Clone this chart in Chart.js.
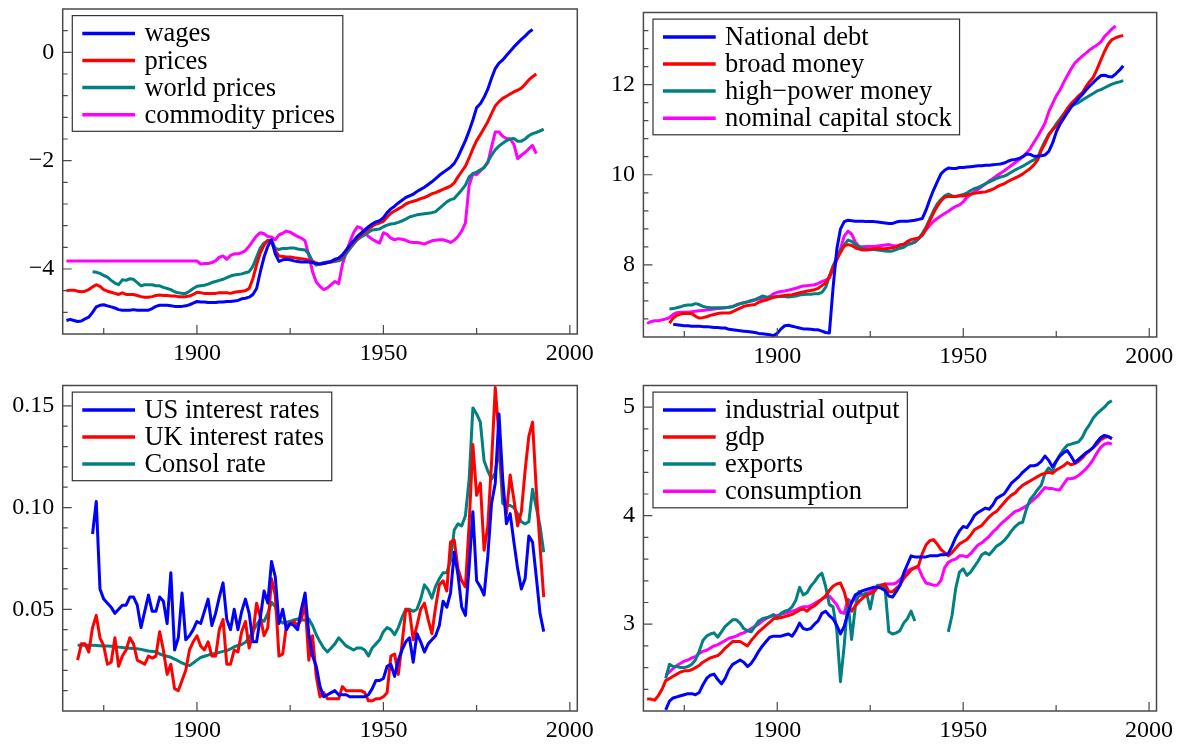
<!DOCTYPE html>
<html>
<head>
<meta charset="utf-8">
<title>UK long-run macro series</title>
<script src="https://cdn.jsdelivr.net/npm/chart.js@4.4.1/dist/chart.umd.min.js"></script>
<style>
  html, body { margin: 0; padding: 0; background: #fff; }
  #wrap { position: relative; width: 1180px; height: 744px; overflow: hidden; background: #fff; }
  #wrap canvas { position: absolute; }
</style>
</head>
<body>
<div id="wrap">
  <canvas id="pPrices" width="600" height="372" style="left:0px;top:0px;width:600px;height:372px"></canvas>
  <canvas id="pMoney" width="580" height="372" style="left:600px;top:0px;width:580px;height:372px"></canvas>
  <canvas id="pRates" width="600" height="372" style="left:0px;top:372px;width:600px;height:372px"></canvas>
  <canvas id="pOutput" width="580" height="372" style="left:600px;top:372px;width:580px;height:372px"></canvas>
</div>
<script>
// ---------- axis ticks ----------
const YEAR_TICKS = [1875, 1900, 1925, 1950, 1975, 2000];
const YEAR_LABELS = [1900, 1950, 2000];

const PRICE_TICKS = [-4.8, -4.4, -4.0, -3.6, -3.2, -2.8, -2.4, -2.0, -1.6, -1.2, -0.8, -0.4, 0, 0.4];
const PRICE_LABELS = [-4, -2, 0];
const MONEY_TICKS = [6.8, 7.2, 7.6, 8, 8.4, 8.8, 9.2, 9.6, 10, 10.4, 10.8, 11.2, 11.6, 12, 12.4, 12.8, 13.2];
const MONEY_LABELS = [8, 10, 12];
const RATE_TICKS = [0.01, 0.02, 0.03, 0.04, 0.05, 0.06, 0.07, 0.08, 0.09, 0.10, 0.11, 0.12, 0.13, 0.14, 0.15];
const RATE_LABELS = [0.05, 0.10, 0.15];
const OUTPUT_TICKS = [2.4, 2.6, 2.8, 3.0, 3.2, 3.4, 3.6, 3.8, 4.0, 4.2, 4.4, 4.6, 4.8, 5.0];
const OUTPUT_LABELS = [3, 4, 5];

// ---------- prices (logs), annual ----------
const wagesStart = 1865;
const wages = [
  -4.95,-4.93,-4.95,-4.97,-4.96,-4.92,-4.89,-4.80,-4.70,-4.67,
  -4.66,-4.68,-4.70,-4.72,-4.75,-4.76,-4.76,-4.76,-4.75,-4.76,
  -4.76,-4.76,-4.76,-4.73,-4.69,-4.67,-4.67,-4.67,-4.68,-4.69,
  -4.69,-4.69,-4.68,-4.66,-4.63,-4.60,-4.61,-4.61,-4.62,-4.62,
  -4.62,-4.61,-4.61,-4.60,-4.60,-4.59,-4.58,-4.55,-4.54,-4.52,
  -4.47,-4.36,-4.05,-3.78,-3.58,-3.46,-3.72,-3.86,-3.83,-3.82,
  -3.83,-3.85,-3.86,-3.87,-3.87,-3.87,-3.88,-3.90,-3.91,-3.90,
  -3.88,-3.86,-3.82,-3.80,-3.74,-3.65,-3.56,-3.48,-3.40,-3.34,
  -3.28,-3.22,-3.17,-3.13,-3.11,-3.05,-2.96,-2.89,-2.84,-2.78,
  -2.73,-2.68,-2.65,-2.62,-2.57,-2.53,-2.49,-2.44,-2.39,-2.33,
  -2.27,-2.22,-2.17,-2.12,-2.05,-1.93,-1.78,-1.63,-1.45,-1.25,
  -1.02,-0.95,-0.83,-0.68,-0.48,-0.30,-0.20,-0.14,-0.06,0.02,
  0.10,0.17,0.24,0.30,0.37,0.42
];
const pricesStart = 1865;
const prices = [
  -4.40,-4.39,-4.39,-4.41,-4.42,-4.41,-4.38,-4.33,-4.29,-4.32,
  -4.38,-4.41,-4.43,-4.45,-4.47,-4.44,-4.47,-4.47,-4.47,-4.49,
  -4.51,-4.52,-4.52,-4.51,-4.49,-4.48,-4.49,-4.49,-4.50,-4.50,
  -4.51,-4.51,-4.51,-4.50,-4.47,-4.43,-4.44,-4.45,-4.45,-4.45,
  -4.45,-4.44,-4.44,-4.44,-4.45,-4.43,-4.42,-4.41,-4.40,-4.36,
  -4.18,-3.92,-3.70,-3.56,-3.47,-3.50,-3.66,-3.76,-3.77,-3.78,
  -3.78,-3.79,-3.80,-3.81,-3.82,-3.84,-3.86,-3.89,-3.91,-3.90,
  -3.88,-3.87,-3.84,-3.81,-3.76,-3.67,-3.58,-3.50,-3.43,-3.37,
  -3.31,-3.26,-3.21,-3.17,-3.15,-3.12,-3.04,-2.97,-2.93,-2.89,
  -2.85,-2.80,-2.77,-2.75,-2.73,-2.70,-2.68,-2.65,-2.61,-2.59,
  -2.56,-2.53,-2.50,-2.47,-2.41,-2.30,-2.20,-2.10,-1.95,-1.78,
  -1.63,-1.52,-1.40,-1.28,-1.13,-0.99,-0.91,-0.85,-0.81,-0.77,
  -0.73,-0.70,-0.66,-0.59,-0.51,-0.45,-0.40
];
const worldPricesStart = 1872;
const worldPrices = [
  -4.05,-4.06,-4.08,-4.12,-4.15,-4.21,-4.26,-4.29,-4.20,-4.21,
  -4.18,-4.19,-4.25,-4.31,-4.29,-4.29,-4.29,-4.31,-4.31,-4.34,
  -4.36,-4.38,-4.42,-4.44,-4.45,-4.45,-4.41,-4.36,-4.32,-4.31,
  -4.30,-4.28,-4.25,-4.23,-4.21,-4.19,-4.16,-4.13,-4.11,-4.10,
  -4.09,-4.07,-4.05,-3.95,-3.78,-3.61,-3.52,-3.48,-3.47,-3.62,
  -3.64,-3.62,-3.62,-3.61,-3.61,-3.63,-3.64,-3.65,-3.72,-3.86,
  -3.93,-3.90,-3.88,-3.87,-3.87,-3.86,-3.85,-3.82,-3.72,-3.63,
  -3.54,-3.46,-3.41,-3.37,-3.32,-3.28,-3.27,-3.26,-3.22,-3.19,
  -3.17,-3.16,-3.14,-3.11,-3.08,-3.04,-3.02,-3.00,-2.99,-2.98,
  -2.97,-2.96,-2.94,-2.88,-2.82,-2.76,-2.72,-2.70,-2.62,-2.54,
  -2.45,-2.30,-2.24,-2.21,-2.17,-2.13,-2.02,-1.90,-1.80,-1.73,
  -1.68,-1.63,-1.60,-1.59,-1.64,-1.64,-1.60,-1.54,-1.50,-1.48,
  -1.45,-1.42
];
const commodityStart = 1865;
const commodity = [
  -3.85,-3.85,-3.85,-3.85,-3.85,-3.85,-3.85,-3.85,-3.85,-3.85,
  -3.85,-3.85,-3.85,-3.85,-3.85,-3.85,-3.85,-3.85,-3.85,-3.85,
  -3.85,-3.85,-3.85,-3.85,-3.85,-3.85,-3.85,-3.85,-3.85,-3.85,
  -3.85,-3.85,-3.85,-3.85,-3.85,-3.85,
  -3.91,-3.90,-3.90,-3.88,-3.85,-3.78,-3.76,-3.82,-3.75,-3.72,
  -3.72,-3.70,-3.66,-3.58,-3.48,-3.39,-3.33,-3.35,-3.40,-3.41,
  -3.46,-3.37,-3.34,-3.30,-3.32,-3.36,-3.40,-3.43,-3.48,-3.75,
  -4.05,-4.24,-4.32,-4.38,-4.35,-4.29,-4.23,-4.27,-3.92,-3.70,
  -3.50,-3.33,-3.22,-3.24,-3.33,-3.40,-3.45,-3.49,-3.52,-3.33,
  -3.36,-3.43,-3.46,-3.44,-3.45,-3.47,-3.50,-3.51,-3.51,-3.52,
  -3.54,-3.51,-3.48,-3.47,-3.46,-3.46,-3.48,-3.51,-3.47,-3.40,
  -3.30,-3.15,-2.45,-2.24,-2.26,-2.19,-2.12,-2.04,-1.75,-1.47,
  -1.47,-1.55,-1.59,-1.60,-1.70,-1.96,-1.90,-1.85,-1.78,-1.72,
  -1.87
];

// ---------- money and debt (logs), annual ----------
const debtStart = 1872;
const nationalDebt = [
  6.68,6.67,6.66,6.65,6.65,6.64,6.64,6.64,6.63,6.63,
  6.62,6.61,6.61,6.60,6.60,6.57,6.56,6.55,6.54,6.53,
  6.52,6.51,6.50,6.48,6.47,6.46,6.45,6.43,6.48,6.58,
  6.65,6.66,6.64,6.62,6.60,6.58,6.58,6.57,6.56,6.56,
  6.53,6.50,6.49,7.50,8.35,8.80,8.96,8.99,8.98,8.97,
  8.97,8.97,8.96,8.96,8.96,8.95,8.94,8.93,8.92,8.92,
  8.95,8.97,8.97,8.97,8.98,8.99,9.01,9.03,9.22,9.45,
  9.66,9.84,10.02,10.10,10.15,10.14,10.14,10.16,10.16,10.17,
  10.18,10.19,10.20,10.20,10.21,10.21,10.22,10.23,10.24,10.26,
  10.30,10.33,10.34,10.36,10.40,10.46,10.45,10.41,10.41,10.42,
  10.44,10.52,10.70,10.95,11.12,11.25,11.38,11.50,11.60,11.69,
  11.78,11.88,11.97,12.05,12.13,12.20,12.21,12.18,12.17,12.24,
  12.32,12.42
];
const broadStart = 1871;
const broadMoney = [
  6.71,6.82,6.88,6.91,6.92,6.92,6.92,6.86,6.82,6.83,
  6.85,6.88,6.90,6.92,6.93,6.93,6.93,6.96,7.00,7.04,
  7.08,7.10,7.11,7.12,7.17,7.20,7.22,7.25,7.28,7.30,
  7.31,7.32,7.33,7.34,7.36,7.38,7.40,7.42,7.43,7.45,
  7.48,7.54,7.60,7.74,7.95,8.12,8.28,8.42,8.45,8.43,
  8.38,8.35,8.33,8.33,8.34,8.36,8.37,8.36,8.36,8.37,
  8.38,8.40,8.44,8.46,8.52,8.56,8.58,8.60,8.66,8.80,
  8.98,9.15,9.30,9.42,9.50,9.52,9.52,9.52,9.53,9.53,
  9.55,9.57,9.59,9.60,9.61,9.62,9.65,9.68,9.73,9.77,
  9.80,9.85,9.89,9.93,9.97,10.02,10.08,10.14,10.22,10.33,
  10.55,10.70,10.88,11.00,11.08,11.20,11.33,11.47,11.58,11.66,
  11.75,11.82,11.96,12.07,12.17,12.35,12.55,12.74,12.90,13.00,
  13.04,13.07,13.09
];
const highPowerStart = 1871;
const highPowerMoney = [
  7.02,7.03,7.05,7.07,7.10,7.11,7.11,7.14,7.12,7.08,
  7.06,7.05,7.05,7.05,7.05,7.05,7.06,7.07,7.11,7.14,
  7.16,7.18,7.21,7.23,7.27,7.31,7.29,7.28,7.29,7.30,
  7.30,7.30,7.29,7.30,7.31,7.33,7.34,7.35,7.35,7.36,
  7.36,7.39,7.50,7.75,7.98,8.17,8.33,8.45,8.55,8.52,
  8.45,8.40,8.37,8.35,8.34,8.34,8.33,8.32,8.31,8.30,
  8.31,8.34,8.37,8.39,8.45,8.47,8.52,8.58,8.70,8.84,
  9.02,9.20,9.35,9.45,9.53,9.57,9.53,9.52,9.54,9.56,
  9.60,9.65,9.69,9.72,9.76,9.80,9.84,9.88,9.92,9.95,
  9.97,10.01,10.06,10.11,10.15,10.19,10.24,10.29,10.33,10.38,
  10.58,10.75,10.90,11.00,11.13,11.24,11.35,11.46,11.52,11.56,
  11.60,11.66,11.71,11.76,11.81,11.86,11.89,11.93,11.97,12.01,
  12.04,12.06,12.09
];
const capitalStart = 1865;
const capitalStock = [
  6.70,6.74,6.76,6.76,6.78,6.80,6.83,6.90,6.94,6.95,
  6.95,6.95,6.96,6.97,6.98,6.99,7.00,7.01,7.02,7.03,
  7.04,7.05,7.06,7.08,7.11,7.14,7.16,7.18,7.20,7.22,
  7.24,7.26,7.27,7.30,7.36,7.39,7.41,7.42,7.44,7.46,
  7.48,7.51,7.53,7.54,7.55,7.56,7.59,7.63,7.66,7.71,
  7.90,8.12,8.36,8.64,8.75,8.68,8.50,8.41,8.40,8.41,
  8.41,8.41,8.42,8.43,8.44,8.45,8.43,8.42,8.44,8.45,
  8.47,8.48,8.50,8.58,8.68,8.78,8.88,8.97,9.03,9.09,
  9.14,9.19,9.25,9.30,9.33,9.40,9.50,9.56,9.62,9.68,
  9.74,9.80,9.86,9.92,9.98,10.03,10.09,10.15,10.21,10.27,
  10.33,10.40,10.48,10.58,10.72,10.85,11.00,11.15,11.40,11.58,
  11.75,11.88,12.05,12.20,12.35,12.48,12.56,12.63,12.70,12.77,
  12.83,12.88,12.95,13.07,13.15,13.24,13.30
];

// ---------- interest rates, annual ----------
const usRatesStart = 1872;
const usRates = [
  0.087,0.103,0.060,0.055,0.053,0.051,0.048,0.050,0.052,0.052,
  0.056,0.056,0.052,0.041,0.049,0.057,0.049,0.049,0.056,0.054,
  0.043,0.068,0.030,0.036,0.058,0.035,0.037,0.040,0.044,0.043,
  0.049,0.055,0.042,0.048,0.056,0.063,0.045,0.040,0.050,0.040,
  0.049,0.055,0.048,0.034,0.034,0.046,0.059,0.053,0.0735,0.066,
  0.043,0.050,0.040,0.043,0.042,0.040,0.050,0.058,0.038,0.027,
  0.022,0.012,0.007,0.008,0.009,0.010,0.008,0.008,0.008,0.007,
  0.007,0.007,0.007,0.007,0.008,0.011,0.015,0.015,0.016,0.022,
  0.023,0.017,0.025,0.030,0.034,0.036,0.024,0.038,0.034,0.029,
  0.033,0.035,0.037,0.042,0.054,0.051,0.058,0.078,0.067,0.051,
  0.047,0.071,0.098,0.064,0.061,0.057,0.076,0.102,0.112,0.146,
  0.114,0.092,0.097,0.083,0.070,0.060,0.065,0.086,0.083,0.066,
  0.048,0.039
];
const ukRatesStart = 1868;
const ukRates = [
  0.025,0.033,0.033,0.029,0.041,0.047,0.036,0.032,0.023,0.024,
  0.036,0.022,0.027,0.030,0.036,0.033,0.025,0.024,0.023,0.027,
  0.026,0.027,0.039,0.030,0.018,0.023,0.011,0.010,0.015,0.020,
  0.030,0.034,0.037,0.032,0.030,0.034,0.027,0.027,0.040,0.045,
  0.023,0.023,0.030,0.029,0.039,0.044,0.031,0.038,0.053,0.046,
  0.037,0.041,0.065,0.057,0.027,0.028,0.042,0.043,0.044,0.042,
  0.045,0.053,0.025,0.037,0.017,0.007,0.009,0.006,0.006,0.006,
  0.006,0.012,0.010,0.010,0.010,0.010,0.010,0.009,0.005,0.005,
  0.006,0.006,0.007,0.009,0.027,0.028,0.018,0.033,0.050,0.049,
  0.035,0.042,0.050,0.053,0.045,0.038,0.051,0.062,0.064,0.059,
  0.083,0.084,0.070,0.064,0.061,0.092,0.131,0.106,0.112,0.079,
  0.091,0.122,0.159,0.135,0.109,0.097,0.116,0.104,0.091,0.098,
  0.118,0.135,0.142,0.109,0.081,0.056
];
const consolStart = 1868;
const consolRate = [
  0.0323,0.0323,0.0323,0.0323,0.0323,0.0322,0.0321,0.0320,0.0319,0.0318,
  0.0316,0.0314,0.0312,0.0310,0.0309,0.0307,0.0306,0.0303,0.0299,0.0295,
  0.0293,0.0292,0.0280,0.0274,0.0269,0.0264,0.0255,0.0246,0.0236,0.0228,
  0.0223,0.0236,0.0250,0.0263,0.0269,0.0275,0.0282,0.0282,0.0288,0.0293,
  0.0297,0.0305,0.0316,0.0322,0.0327,0.0338,0.0360,0.0390,0.0424,0.0449,
  0.0441,0.0480,0.0534,0.0514,0.0446,0.0433,0.0437,0.0441,0.0448,0.0452,
  0.0449,0.0446,0.0452,0.0420,0.0375,0.0340,0.0310,0.0290,0.0310,0.0330,
  0.0360,0.0340,0.0320,0.0310,0.0300,0.0310,0.0310,0.0300,0.0270,0.0310,
  0.0330,0.0350,0.0390,0.0410,0.0400,0.0375,0.0410,0.0460,0.0500,0.0500,
  0.0490,0.0500,0.0550,0.0620,0.0596,0.0555,0.0613,0.0650,0.0680,0.0680,
  0.0740,0.0890,0.0920,0.0910,0.0960,0.1140,0.1490,0.1460,0.1420,0.1230,
  0.1180,0.1140,0.1170,0.1300,0.1020,0.1010,0.1010,0.1000,0.0970,0.0930,
  0.0920,0.0930,0.1090,0.1000,0.0910,0.0780
];

// ---------- output and spending (logs), annual ----------
const industryStart = 1870;
const industrialOutput = [
  2.21,2.29,2.32,2.33,2.34,2.35,2.36,2.36,2.35,2.37,
  2.44,2.50,2.53,2.54,2.49,2.45,2.50,2.58,2.63,2.65,
  2.67,2.65,2.61,2.64,2.69,2.75,2.80,2.84,2.88,2.89,
  2.89,2.89,2.90,2.91,2.89,2.94,3.01,2.96,2.95,2.96,
  3.00,3.03,3.10,3.12,3.08,3.05,2.99,2.91,2.98,3.10,
  3.20,3.27,3.29,3.31,3.32,3.33,3.34,3.34,3.33,3.31,
  3.26,3.25,3.30,3.36,3.47,3.55,3.63,3.62,3.62,3.62,
  3.62,3.63,3.63,3.63,3.64,3.64,3.65,3.72,3.80,3.86,
  3.90,3.89,3.94,4.00,4.03,4.05,4.07,4.06,4.10,4.16,
  4.18,4.20,4.25,4.30,4.33,4.36,4.40,4.43,4.46,4.46,
  4.47,4.50,4.55,4.51,4.45,4.50,4.55,4.58,4.60,4.55,
  4.49,4.52,4.55,4.58,4.60,4.63,4.68,4.72,4.74,4.73,
  4.71
];
const gdpStart = 1865;
const gdp = [
  2.31,2.31,2.30,2.34,2.40,2.48,2.50,2.52,2.54,2.56,
  2.57,2.57,2.58,2.60,2.62,2.65,2.67,2.69,2.70,2.71,
  2.74,2.78,2.81,2.84,2.84,2.84,2.82,2.80,2.85,2.89,
  2.93,2.96,2.99,3.02,3.05,3.06,3.06,3.07,3.08,3.09,
  3.11,3.13,3.14,3.12,3.15,3.17,3.20,3.23,3.26,3.31,
  3.35,3.37,3.38,3.30,3.17,3.12,3.17,3.21,3.24,3.27,
  3.28,3.30,3.34,3.36,3.37,3.30,3.30,3.33,3.36,3.42,
  3.46,3.50,3.52,3.54,3.65,3.73,3.77,3.78,3.74,3.69,
  3.66,3.63,3.66,3.70,3.74,3.76,3.78,3.82,3.87,3.89,
  3.91,3.95,3.99,4.02,4.04,4.08,4.12,4.16,4.19,4.21,
  4.25,4.28,4.30,4.32,4.34,4.36,4.38,4.39,4.40,4.39,
  4.42,4.44,4.46,4.49,4.47,4.48,4.50,4.53,4.57,4.60,
  4.63,4.66,4.70,4.72,4.73,4.71
];
const exportsStart = 1870;
const exportsSeries = [
  2.50,2.63,2.61,2.61,2.60,2.60,2.61,2.63,2.67,2.75,
  2.85,2.89,2.91,2.92,2.88,2.93,2.98,3.01,3.04,3.04,
  3.01,2.96,2.94,2.93,2.98,3.03,3.05,3.06,3.07,3.09,
  3.05,3.10,3.12,3.13,3.16,3.22,3.34,3.27,3.29,3.35,
  3.39,3.44,3.47,3.35,3.18,3.16,2.95,2.47,2.80,3.22,
  2.86,3.16,3.30,3.27,3.29,3.14,3.31,3.36,3.36,3.33,
  2.93,2.91,2.92,2.94,3.01,3.05,3.12,3.03,null,null,
  null,null,null,null,null,null,2.93,3.08,3.33,3.48,
  3.51,3.45,3.48,3.53,3.58,3.64,3.66,3.64,3.68,3.72,
  3.74,3.77,3.81,3.86,3.90,3.93,3.94,4.06,4.15,4.19,
  4.24,4.28,4.39,4.44,4.41,4.50,4.56,4.61,4.65,4.66,
  4.67,4.68,4.72,4.79,4.84,4.90,4.94,4.97,5.00,5.04,
  5.06
];
const consumptionStart = 1870;
const consumption = [
  2.53,2.56,2.59,2.62,2.64,2.66,2.67,2.69,2.70,2.73,
  2.75,2.76,2.78,2.80,2.81,2.83,2.85,2.87,2.88,2.89,
  2.91,2.92,2.94,2.96,2.98,3.00,3.03,3.05,3.07,3.08,
  3.08,3.09,3.10,3.11,3.12,3.13,3.15,3.16,3.16,3.17,
  3.19,3.21,3.23,3.25,3.26,3.22,3.18,3.11,3.10,3.23,
  3.20,3.24,3.26,3.27,3.28,3.30,3.32,3.34,3.36,3.37,
  3.37,3.37,3.38,3.41,3.45,3.49,3.51,3.52,3.52,3.44,
  3.38,3.37,3.36,3.36,3.40,3.52,3.57,3.59,3.60,3.63,
  3.63,3.62,3.65,3.69,3.73,3.75,3.78,3.81,3.85,3.88,
  3.92,3.95,3.98,4.01,4.04,4.05,4.07,4.09,4.12,4.15,
  4.18,4.22,4.26,4.25,4.25,4.24,4.24,4.29,4.34,4.34,
  4.35,4.37,4.40,4.43,4.47,4.52,4.58,4.63,4.66,4.67,
  4.66
];

// ---------- styling ----------
const BLUE = '#0000ff', RED = '#ff0000', TEAL = '#008080', MAGENTA = '#ff00ff';
const SERIF = '"Liberation Serif", "Times New Roman", serif';
const FRAME = '#4a4a4a';
const MINUS = '\u2212';

function points(start, values) {
  return values.map((v, i) => ({ x: start + i, y: v }));
}
function line(label, color, start, values) {
  return {
    label, data: points(start, values), borderColor: color, backgroundColor: color,
    borderWidth: 3, pointRadius: 0, tension: 0, fill: false, spanGaps: false,
    borderJoinStyle: 'round', borderCapStyle: 'butt'
  };
}
function near(list, v) {
  return list.some(t => Math.abs(t - v) < 1e-9);
}

// frame box, inward tick marks and boxed legend
const framePlugin = {
  id: 'frame',
  beforeDraw(chart) {
    const { ctx, width, height } = chart;
    ctx.save();
    ctx.fillStyle = '#fff';
    ctx.fillRect(0, 0, width, height);
    ctx.restore();
  },
  afterDatasetsDraw(chart, args, opts) {
    const { ctx, chartArea: a, scales } = chart;
    const xs = scales.x, ys = scales.y;
    ctx.save();
    ctx.strokeStyle = FRAME;
    ctx.lineWidth = 1.2;
    ctx.beginPath();
    opts.xTicks.forEach(v => {
      const px = xs.getPixelForValue(v);
      const len = near(opts.xLabels, v) ? 9 : 6;
      ctx.moveTo(px, a.bottom);
      ctx.lineTo(px, a.bottom - len);
    });
    opts.yTicks.forEach(v => {
      const py = ys.getPixelForValue(v);
      const len = near(opts.yLabels, v) ? 9 : 5;
      ctx.moveTo(a.left, py);
      ctx.lineTo(a.left + len, py);
    });
    ctx.stroke();
    ctx.lineWidth = 1.5;
    ctx.strokeRect(a.left, a.top, a.right - a.left, a.bottom - a.top);

    // legend
    const sets = chart.data.datasets;
    const fontPx = 26.5;
    ctx.font = fontPx + 'px ' + SERIF;
    const textW = Math.max(...sets.map(d => ctx.measureText(d.label).width));
    const bx = a.left + 9.6, by = a.top + 6.6;
    const rowGap = 27.1, firstRow = 17.8;
    const bw = 10 + 52.7 + 9.4 + textW + 7.8;
    const bh = firstRow + rowGap * (sets.length - 1) + 16.6;
    ctx.fillStyle = '#fff';
    ctx.fillRect(bx, by, bw, bh);
    ctx.strokeStyle = '#333';
    ctx.lineWidth = 1.2;
    ctx.strokeRect(bx, by, bw, bh);
    sets.forEach((d, i) => {
      const yy = by + firstRow + rowGap * i;
      ctx.strokeStyle = d.borderColor;
      ctx.lineWidth = 3.5;
      ctx.beginPath();
      ctx.moveTo(bx + 10, yy);
      ctx.lineTo(bx + 62.7, yy);
      ctx.stroke();
      ctx.fillStyle = '#000';
      ctx.textBaseline = 'alphabetic';
      ctx.textAlign = 'left';
      ctx.fillText(d.label, bx + 72.1, yy + 8);
    });
    ctx.restore();
  }
};

function makePanel(id, cfg) {
  const canvas = document.getElementById(id);
  const W = canvas.width, H = canvas.height;
  const area = cfg.area;
  const tickFont = { family: SERIF, size: 24 };
  return new Chart(canvas, {
    type: 'line',
    data: { datasets: cfg.datasets },
    options: {
      responsive: false,
      animation: false,
      devicePixelRatio: 1,
      events: [],
      layout: { padding: { left: 0, top: area.top, right: W - area.right, bottom: 0 } },
      plugins: {
        legend: { display: false },
        tooltip: { enabled: false },
        frame: { xTicks: YEAR_TICKS, xLabels: YEAR_LABELS, yTicks: cfg.yTicks, yLabels: cfg.yLabels }
      },
      scales: {
        x: {
          type: 'linear', min: 1864, max: 2002,
          grid: { display: false, drawTicks: false }, border: { display: false },
          afterBuildTicks: s => { s.ticks = YEAR_LABELS.map(v => ({ value: v })); },
          afterFit: s => {
            s.height = H - area.bottom;
            s.paddingLeft = s.paddingRight = s.paddingTop = s.paddingBottom = 0;
          },
          ticks: { autoSkip: false, maxRotation: 0, minRotation: 0, padding: 5, color: '#000', font: tickFont,
                   callback: v => String(v) }
        },
        y: {
          type: 'linear', min: cfg.yMin, max: cfg.yMax,
          grid: { display: false, drawTicks: false }, border: { display: false },
          afterBuildTicks: s => { s.ticks = cfg.yLabels.map(v => ({ value: v })); },
          afterFit: s => {
            s.width = area.left;
            s.paddingLeft = s.paddingRight = s.paddingTop = s.paddingBottom = 0;
          },
          ticks: { autoSkip: false, padding: 8.5, color: '#000', font: tickFont, callback: cfg.fmt }
        }
      }
    },
    plugins: [framePlugin]
  });
}

const signed = v => (v < 0 ? MINUS + Math.abs(v) : String(v));

makePanel('pPrices', {
  area: { left: 62.7, top: 9, right: 577.3, bottom: 334 },
  yMin: -5.2, yMax: 0.8, yTicks: PRICE_TICKS, yLabels: PRICE_LABELS, fmt: signed,
  datasets: [
    line('wages', BLUE, wagesStart, wages),
    line('prices', RED, pricesStart, prices),
    line('world prices', TEAL, worldPricesStart, worldPrices),
    line('commodity prices', MAGENTA, commodityStart, commodity)
  ]
});

makePanel('pMoney', {
  area: { left: 43.4, top: 12.5, right: 556.7, bottom: 337 },
  yMin: 6.4, yMax: 13.6, yTicks: MONEY_TICKS, yLabels: MONEY_LABELS, fmt: v => String(v),
  datasets: [
    line('National debt', BLUE, debtStart, nationalDebt),
    line('broad money', RED, broadStart, broadMoney),
    line('high' + MINUS + 'power money', TEAL, highPowerStart, highPowerMoney),
    line('nominal capital stock', MAGENTA, capitalStart, capitalStock)
  ]
});

makePanel('pRates', {
  area: { left: 62.7, top: 13.5, right: 577.3, bottom: 339 },
  yMin: 0, yMax: 0.16, yTicks: RATE_TICKS, yLabels: RATE_LABELS, fmt: v => v.toFixed(2),
  datasets: [
    line('US interest rates', BLUE, usRatesStart, usRates),
    line('UK interest rates', RED, ukRatesStart, ukRates),
    line('Consol rate', TEAL, consolStart, consolRate)
  ]
});

makePanel('pOutput', {
  area: { left: 43.4, top: 13.5, right: 556.5, bottom: 339 },
  yMin: 2.2, yMax: 5.2, yTicks: OUTPUT_TICKS, yLabels: OUTPUT_LABELS, fmt: v => String(v),
  datasets: [
    line('industrial output', BLUE, industryStart, industrialOutput),
    line('gdp', RED, gdpStart, gdp),
    line('exports', TEAL, exportsStart, exportsSeries),
    line('consumption', MAGENTA, consumptionStart, consumption)
  ]
});
</script>
</body>
</html>
